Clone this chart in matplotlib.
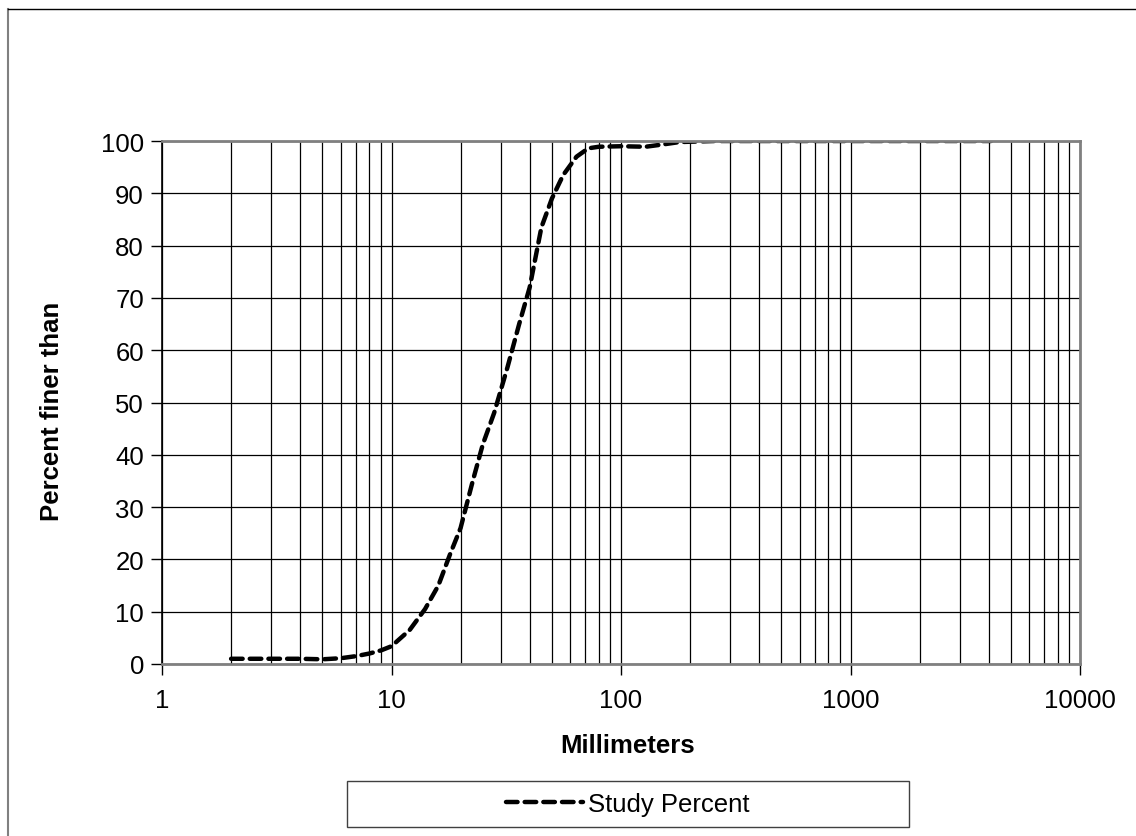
import matplotlib
matplotlib.use("Agg")
import matplotlib.pyplot as plt
from matplotlib.patches import Rectangle
from matplotlib.lines import Line2D
from matplotlib.ticker import LogLocator, FixedLocator, NullFormatter
import numpy as np

# Curva granulométrica
mm = [2, 3, 4, 5, 6, 7, 8, 9, 10, 12, 14, 16, 18, 20, 22.6, 25, 28, 32, 36,
      40, 45, 50, 56, 64, 72, 80, 100, 128, 150, 180, 256, 512, 1024, 2048, 4096]
pct = [1, 1, 1, 0.9, 1.1, 1.5, 2, 2.6, 3.4, 6.5, 10.5, 15, 21, 26, 35, 42, 48,
       56.7, 65, 72, 83.5, 89, 93.5, 97, 98.6, 98.9, 99, 98.9, 99.3, 99.8,
       100, 100, 100, 100, 100]
serie = "Study Percent"
y_ticks = list(range(0, 101, 10))
x_ticks = [1, 10, 100, 1000, 10000]

plt.rcParams['font.family'] = ['Liberation Sans', 'DejaVu Sans']
fs = 18.5

fig = plt.figure(figsize=(11.36, 8.37), dpi=100)
ax = fig.add_axes([162 / 1136, 1 - 665 / 837, (1080 - 162) / 1136, (665 - 142) / 837])

ax.plot(mm, pct, color="black", lw=3.2, linestyle=(0, (2.6, 1.6)),
        dash_capstyle="round", label=serie)

ax.set_xscale("log")
ax.set_xlim(1, 10000)
ax.set_ylim(0, 100)
ax.xaxis.set_major_locator(FixedLocator(x_ticks))
ax.set_xticklabels([str(t) for t in x_ticks])
ax.xaxis.set_minor_locator(LogLocator(base=10, subs=np.arange(2, 10)))
ax.xaxis.set_minor_formatter(NullFormatter())
ax.set_yticks(y_ticks)

ax.grid(True, which="both", axis="x", color="black", lw=0.9)
ax.grid(True, which="major", axis="y", color="black", lw=0.9)
ax.tick_params(axis="x", which="minor", length=0)
ax.tick_params(axis="both", which="major", direction="out", length=8,
               width=1, labelsize=fs, pad=5)
ax.tick_params(axis="x", which="major", pad=9)

for s in ["top", "right", "bottom"]:
    ax.spines[s].set_color("#808080")
    ax.spines[s].set_linewidth(2)
ax.spines["left"].set_color("black")
ax.spines["left"].set_linewidth(1.2)

ax.set_xlabel("Millimeters", fontsize=fs, fontweight="bold", va="center")
ax.xaxis.set_label_coords(0.5076, -0.1549)
ax.set_ylabel("Percent finer than", fontsize=fs, fontweight="bold", va="center")
ax.yaxis.set_label_coords(-0.1198, 0.4857)

# marco exterior
fig.add_artist(Line2D([8 / 1136, 8 / 1136], [0, 1 - 10 / 837], color="#808080", lw=1.5))
fig.add_artist(Line2D([8 / 1136, 1], [1 - 10 / 837, 1 - 10 / 837], color="black", lw=1))

# leyenda
x0, y0, w, h = 347 / 1136, 1 - 828 / 837, 562 / 1136, 46 / 837
fig.add_artist(Rectangle((x0, y0), w, h, transform=fig.transFigure,
                         facecolor="white", edgecolor="#404040", lw=1))
fig.legend(loc="center", bbox_to_anchor=(x0 + w / 2, y0 + h / 2), frameon=False,
           fontsize=fs, handlelength=3, handletextpad=0.2)

plt.savefig("out.png", dpi=100)
